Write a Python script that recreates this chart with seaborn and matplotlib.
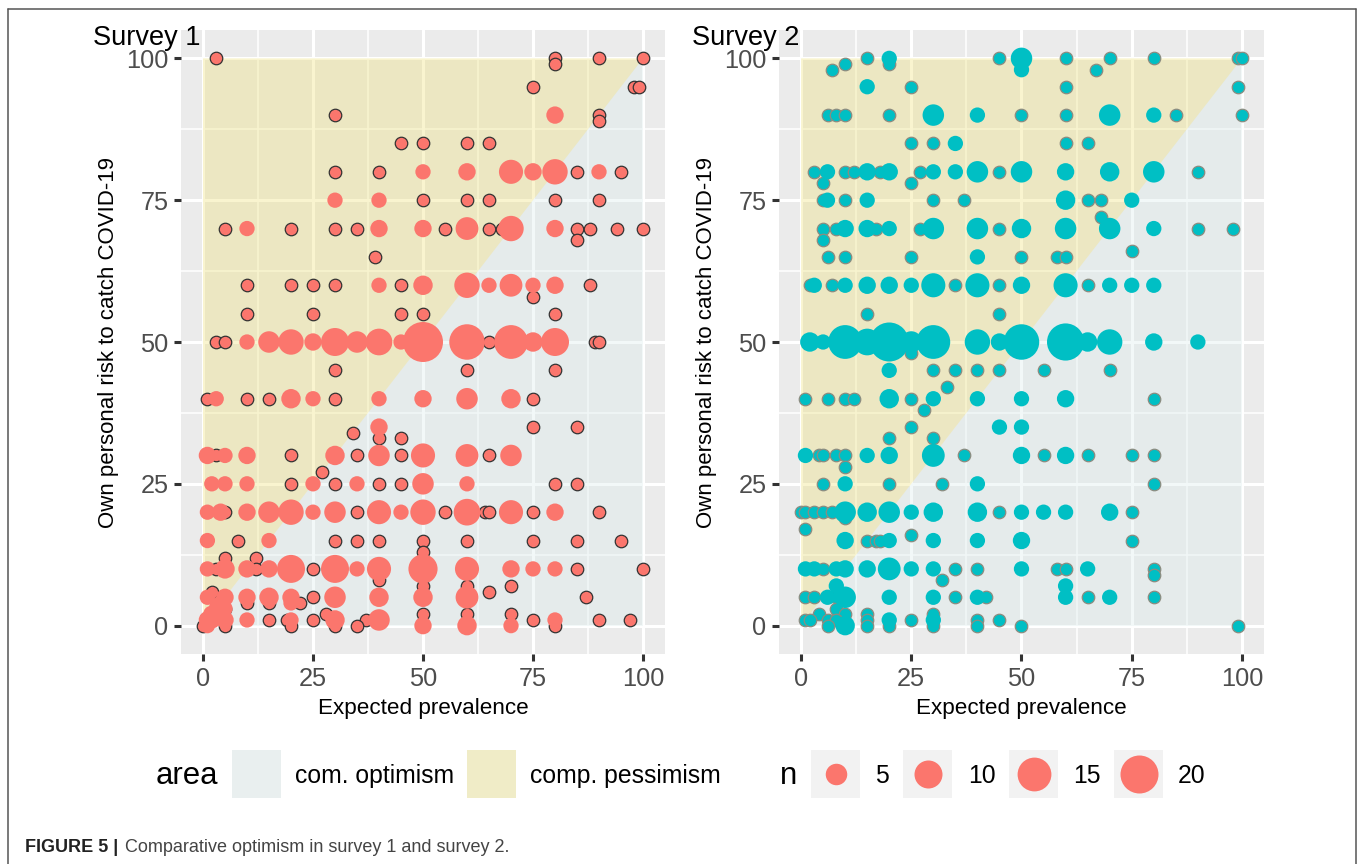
#!/usr/bin/env python3
"""
Comparative optimism bubble charts for survey 1 and survey 2
"""

import numpy as np
import pandas as pd
import matplotlib.pyplot as plt
import seaborn as sns
from matplotlib.lines import Line2D
from matplotlib.patches import Polygon, Rectangle

W, H = 1357, 864

# Survey 1: answers given by one respondent (drawn with an outline)
s1_single_x = [3, 80, 80, 90, 100, 75, 98, 99, 30, 90, 90,
               45, 50, 60, 65, 30, 40, 85, 95, 50, 60, 65, 80, 90,
               5, 20, 30, 35, 55, 65, 68, 85, 88, 94, 100, 85, 39,
               10, 20, 25, 30, 45, 88, 75, 10, 25, 45, 50, 80,
               3, 5, 65, 89, 90, 30, 60, 80, 1, 10, 15, 30, 75,
               34, 40, 45, 75, 85, 3, 20, 35, 45, 65, 27,
               20, 30, 40, 45, 80, 85, 5, 35, 55, 64, 65, 75, 90,
               8, 30, 35, 40, 50, 60, 75, 85, 95, 50, 5, 12,
               3, 12, 25, 85, 100, 40, 50, 70, 65, 60, 2, 25, 87,
               10, 15, 22, 5, 50, 60, 70, 28,
               15, 19, 25, 37, 75, 90, 97, 0, 5, 20, 30, 35, 80]
s1_single_y = [100, 100, 99, 100, 100, 95, 95, 95, 90, 90, 89,
               85, 85, 85, 85, 80, 80, 80, 80, 75, 75, 75, 75, 75,
               70, 70, 70, 70, 70, 70, 70, 70, 70, 70, 70, 68, 65,
               60, 60, 60, 60, 60, 60, 58, 55, 55, 55, 55, 55,
               50, 50, 50, 50, 50, 45, 45, 45, 40, 40, 40, 40, 40,
               34, 33, 33, 35, 35, 30, 30, 30, 30, 30, 27,
               25, 25, 25, 25, 25, 25, 20, 20, 20, 20, 20, 20, 20,
               15, 15, 15, 15, 15, 15, 15, 15, 15, 13, 12, 12,
               10, 10, 10, 10, 10, 8, 7, 7, 6, 7, 6, 5, 5,
               4, 4, 4, 3, 2, 2, 2, 2,
               1, 1, 1, 1, 1, 1, 1, 0, 0, 0, 0, 0, 0]

# Survey 1: answers shared by several respondents
s1_x = [30, 40, 80, 50, 60, 70, 75, 80, 90, 10, 40, 50, 60, 70, 80,
        40, 50, 60, 65, 70, 75, 80,
        10, 15, 20, 25, 30, 35, 40, 45, 50, 60, 70, 75, 80,
        3, 20, 25, 40, 50, 60, 70, 40,
        1, 5, 10, 30, 40, 50, 60, 70, 2, 5, 10, 25, 35, 50, 60,
        1, 4, 10, 15, 20, 25, 30, 40, 45, 50, 60, 70, 80, 1, 15,
        1, 5, 10, 15, 20, 30, 35, 40, 50, 60, 70, 75, 80,
        1, 5, 10, 15, 20, 30, 40, 50, 60, 20,
        1, 2, 3, 2, 3, 1, 5, 5, 4,
        10, 20, 30, 40, 80, 50, 60, 70]
s1_y = [75, 75, 90, 80, 80, 80, 80, 80, 80, 70, 70, 70, 70, 70, 70,
        60, 60, 60, 60, 60, 60, 60,
        50, 50, 50, 50, 50, 50, 50, 50, 50, 50, 50, 50, 50,
        40, 40, 40, 40, 40, 40, 40, 35,
        30, 30, 30, 30, 30, 30, 30, 30, 25, 25, 25, 25, 25, 25, 25,
        20, 20, 20, 20, 20, 20, 20, 20, 20, 20, 20, 20, 20, 15, 15,
        10, 10, 10, 10, 10, 10, 10, 10, 10, 10, 10, 10, 10,
        5, 5, 5, 5, 5, 5, 5, 5, 5, 4,
        1, 2, 2, 1, 3, 0, 1, 3, 4,
        1, 1, 1, 1, 1, 0, 0, 0]
s1_n = [2, 2, 3, 2, 3, 7, 3, 8, 2, 2, 3, 3, 6, 8, 3,
        2, 4, 8, 2, 6, 2, 3,
        2, 5, 8, 3, 10, 5, 9, 2, 22, 17, 15, 4, 10,
        2, 4, 2, 2, 3, 5, 4, 3,
        3, 2, 3, 4, 5, 7, 6, 5, 2, 2, 2, 2, 2, 5, 2,
        2, 3, 3, 5, 8, 2, 5, 7, 2, 8, 9, 7, 3, 2, 2,
        2, 4, 3, 3, 10, 10, 2, 7, 11, 7, 3, 2, 2,
        2, 3, 3, 4, 3, 5, 4, 4, 6, 2,
        3, 3, 3, 3, 2, 2, 3, 2, 2,
        2, 2, 4, 5, 2, 3, 4, 2]

# Survey 2: answers given by one respondent
s2_single_x = [7, 10, 15, 20, 45, 60, 70, 67, 80, 99, 100, 25, 60, 99,
               6, 8, 10, 20, 50, 60, 85, 100, 25, 30, 60, 65,
               3, 10, 12, 18, 27, 45, 90, 5, 25,
               5, 10, 30, 37, 65, 68, 5, 8, 17, 27, 45, 90, 98, 68, 5,
               6, 10, 25, 50, 58, 60, 75, 2, 7, 35, 45, 65, 15, 45, 25,
               30, 35, 40, 45, 55, 70, 33, 1, 6, 10, 12, 25, 80,
               28, 25, 20, 30, 4, 5, 8, 10, 37, 55, 65, 75, 80, 10,
               5, 20, 32, 80, 0, 1, 3, 5, 7, 45, 75, 1, 10,
               15, 17, 18, 75, 25, 5, 35, 40, 58, 60, 80, 80, 32,
               1, 3, 8, 35, 42, 65, 80, 8, 4, 10, 15, 30,
               1, 2, 6, 8, 15, 25, 40, 45, 6, 15, 20, 30, 40, 50, 99]
s2_single_y = [98, 99, 100, 99, 100, 100, 100, 98, 100, 100, 100, 95, 95, 95,
               90, 90, 90, 90, 90, 90, 90, 90, 85, 85, 85, 85,
               80, 80, 80, 80, 80, 80, 80, 78, 78,
               75, 75, 75, 75, 75, 75, 70, 70, 70, 70, 70, 70, 70, 72, 68,
               65, 65, 65, 65, 65, 65, 66, 60, 60, 60, 60, 60, 55, 55, 48,
               45, 45, 45, 45, 45, 45, 42, 40, 40, 40, 40, 40, 40,
               38, 35, 33, 33, 30, 30, 30, 30, 30, 30, 30, 30, 30, 28,
               25, 25, 25, 25, 20, 20, 20, 20, 20, 20, 20, 17, 19,
               15, 15, 15, 15, 16, 10, 10, 10, 10, 10, 10, 9, 8,
               5, 5, 5, 5, 5, 5, 5, 3, 2, 2, 2, 2,
               1, 1, 1, 1, 1, 1, 1, 1, 0, 0, 0, 0, 0, 0, 0]

# Survey 2: answers shared by several respondents
s2_x = [20, 50, 15, 50, 30, 40, 70, 80, 35,
        6, 15, 20, 30, 35, 40, 50, 60, 70, 80, 6, 15, 60, 75,
        10, 15, 20, 30, 40, 50, 60, 70, 80, 40,
        3, 10, 15, 20, 25, 30, 40, 50, 60, 70, 75, 80,
        2, 5, 10, 15, 20, 25, 30, 40, 45, 50, 60, 65, 70, 80, 90,
        20, 20, 30, 40, 50, 60, 45, 50,
        1, 15, 20, 30, 50, 60, 10, 40,
        10, 15, 20, 25, 30, 40, 50, 55, 60, 70, 10, 20, 30, 40, 50,
        1, 3, 8, 10, 15, 20, 25, 30, 50, 65, 8, 60,
        6, 10, 20, 30, 40, 60, 70, 20, 30, 10]
s2_y = [100, 100, 95, 98, 90, 90, 90, 90, 85,
        80, 80, 80, 80, 80, 80, 80, 80, 80, 80, 75, 75, 75, 75,
        70, 70, 70, 70, 70, 70, 70, 70, 70, 65,
        60, 60, 60, 60, 60, 60, 60, 60, 60, 60, 60, 60,
        50, 50, 50, 50, 50, 50, 50, 50, 50, 50, 50, 50, 50, 50, 50,
        45, 40, 40, 40, 40, 40, 35, 35,
        30, 30, 30, 30, 30, 30, 25, 25,
        20, 20, 20, 20, 20, 20, 20, 20, 20, 20, 15, 15, 15, 15, 15,
        10, 10, 10, 10, 10, 10, 10, 10, 10, 10, 7, 7,
        5, 5, 5, 5, 5, 5, 5, 1, 1, 0]
s2_n = [2, 5, 2, 2, 5, 2, 5, 2, 2,
        2, 3, 3, 2, 2, 5, 5, 3, 4, 5, 2, 2, 4, 2,
        3, 3, 2, 5, 5, 4, 5, 5, 2, 2,
        2, 2, 3, 3, 2, 7, 7, 3, 7, 2, 2, 2,
        4, 2, 15, 9, 21, 5, 15, 8, 3, 17, 19, 4, 8, 3, 2,
        2, 4, 2, 2, 2, 3, 2, 2,
        2, 2, 3, 6, 3, 3, 2, 2,
        5, 4, 5, 2, 4, 4, 2, 2, 2, 3, 3, 2, 2, 2, 3,
        2, 2, 2, 3, 3, 6, 2, 2, 2, 2, 2, 2,
        2, 5, 2, 2, 2, 2, 2, 2, 2, 4]

panel_titles = ['Survey 1', 'Survey 2']
axis_ticks = [0, 25, 50, 75, 100]
minor_ticks = [12.5, 37.5, 62.5, 87.5]
area_labels = ['com. optimism', 'comp. pessimism']
size_breaks = [5, 10, 15, 20]

SALMON = '#FB766D'
TEAL = '#00BFC4'
OPTIMISM = '#DAEBEB'
PESSIMISM = '#EEE278'
FONT = 'Liberation Sans'


def bubble_px(n):
    # bubble diameter in pixels, measured off the size legend
    return np.interp(n, [1, 2, 5, 10, 15, 20, 22], [13, 15.3, 21.5, 28, 33.8, 38, 40])


def px_area(d):
    return (d * 0.72) ** 2


def panel_axes(left, right, top, bottom):
    return fig.add_axes([left / W, 1 - bottom / H, (right - left) / W, (bottom - top) / H])


def draw_panel(ax, single_x, single_y, x, y, n, color, edge):
    ax.set_facecolor('#EBEBEB')
    ax.set_xlim(-5, 105)
    ax.set_ylim(-5, 105)

    ax.add_patch(Polygon([(0, 0), (100, 0), (100, 100)], fc=OPTIMISM, ec='none', alpha=0.35, zorder=1))
    ax.add_patch(Polygon([(0, 0), (100, 100), (0, 100)], fc=PESSIMISM, ec='none', alpha=0.35, zorder=1))

    singles = pd.DataFrame({'x': single_x, 'y': single_y})
    sns.scatterplot(data=singles, x='x', y='y', ax=ax, s=px_area(12.5), color=color,
                    edgecolor=edge, linewidth=0.9, zorder=2, legend=False)

    counts = pd.DataFrame({'x': x, 'y': y, 'n': n})
    sizes = {k: px_area(bubble_px(k)) for k in counts['n'].unique()}
    sns.scatterplot(data=counts, x='x', y='y', size='n', sizes=sizes, ax=ax, color=color,
                    edgecolor='none', linewidth=0, zorder=3, legend=False)

    ax.set_xticks(axis_ticks)
    ax.set_yticks(axis_ticks)
    ax.set_xticks(minor_ticks, minor=True)
    ax.set_yticks(minor_ticks, minor=True)
    ax.grid(which='major', color='white', linewidth=2.2, zorder=0.5)
    ax.grid(which='minor', color='white', linewidth=1.1, zorder=0.5)
    ax.set_axisbelow(True)
    ax.tick_params(which='minor', length=0)
    ax.tick_params(which='major', left=True, bottom=True, length=5, width=2.2, color='#333333',
                   labelcolor='#4D4D4D', labelsize=18.3, pad=4)
    ax.set_xlabel('Expected prevalence', fontsize=16.2, labelpad=5.5, color='black')
    ax.set_ylabel('Own personal risk to catch COVID-19', fontsize=16, labelpad=5, color='black')
    for spine in ax.spines.values():
        spine.set_visible(False)


sns.set_theme(style='darkgrid')
plt.rcParams['font.family'] = [FONT, 'DejaVu Sans']

fig = plt.figure(figsize=(W / 100, H / 100), dpi=100, facecolor='white')

ax1 = panel_axes(181, 665, 30, 654)
ax2 = panel_axes(779, 1264, 30, 654)
draw_panel(ax1, s1_single_x, s1_single_y, s1_x, s1_y, s1_n, SALMON, '#333333')
draw_panel(ax2, s2_single_x, s2_single_y, s2_x, s2_y, s2_n, TEAL, '#8C8C80')

# Overlay in pixel coordinates for titles, legend, caption and page frame
over = fig.add_axes([0, 0, 1, 1], facecolor='none')
over.set_xlim(0, W)
over.set_ylim(H, 0)
over.axis('off')

over.text(93, 38, panel_titles[0], fontsize=19.5, va='center', ha='left', color='black')
over.text(692, 38, panel_titles[1], fontsize=19.5, va='center', ha='left', color='black')

# Area legend
over.text(156, 776, 'area', fontsize=22.4, va='center', ha='left', color='black')
for left, fill, label, text_x in [(232, OPTIMISM, area_labels[0], 295), (467, PESSIMISM, area_labels[1], 530)]:
    over.add_patch(Rectangle((left, 750), 48.5, 48, fc='#F2F2F2', ec='none'))
    over.add_patch(Rectangle((left, 750), 48.5, 48, fc=fill, ec='none', alpha=0.35))
    over.text(text_x, 776, label, fontsize=17.8, va='center', ha='left', color='black')

# Size legend
over.text(780, 776, 'n', fontsize=22.4, va='center', ha='left', color='black')
for left, brk, text_x in zip([811, 903, 1009, 1114], size_breaks, [875, 968, 1073, 1178]):
    over.add_patch(Rectangle((left, 750), 49, 48, fc='#F2F2F2', ec='none'))
    over.scatter([left + 24.5], [774], s=px_area(bubble_px(brk)), color=SALMON, linewidth=0)
    over.text(text_x, 776, str(brk), fontsize=17.8, va='center', ha='left', color='black')

# Caption
over.text(25, 847, 'FIGURE 5 |', fontsize=13, fontweight='bold', va='center', ha='left', color='#222222')
over.text(125, 847, 'Comparative optimism in survey 1 and survey 2.', fontsize=13, va='center', ha='left',
          color='#444444')

# Page frame
for xs, ys in [((8, 8), (9, 864)), ((8, 1356), (9, 9)), ((1356, 1356), (9, 864))]:
    over.add_line(Line2D(xs, ys, color='#555555', linewidth=1.1))

fig.savefig('out.png', dpi=100)
plt.close(fig)
